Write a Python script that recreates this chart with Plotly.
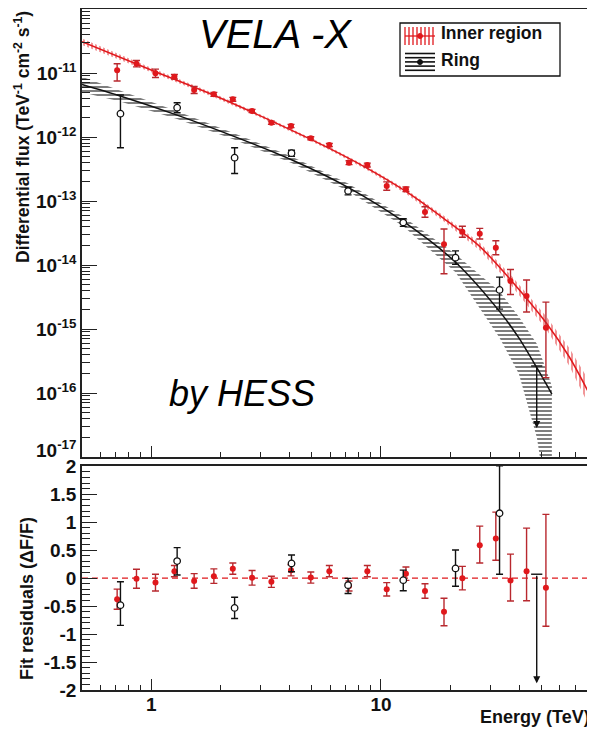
import numpy as np
import plotly.graph_objects as go

# ---------------- data ----------------
# Inner region spectral points (E in TeV, log10 flux)
inner_E = [0.711, 0.863, 1.044, 1.262, 1.538, 1.874, 2.266, 2.748, 3.335, 4.06, 4.95, 5.96,
           7.26, 8.72, 10.59, 12.84, 15.54, 18.8, 22.6, 26.9, 31.6, 36.6, 43.0, 52.2]
inner_logF = [-10.958, -10.855, -11.005, -11.058, -11.266, -11.333, -11.411, -11.594, -11.777,
              -11.828, -12.02, -12.125, -12.402, -12.438, -12.766, -12.817, -13.172, -13.677,
              -13.48, -13.511, -13.73, -14.25, -14.484, -14.98]
inner_dex_up = [0.103, 0.05, 0.065, 0.035, 0.055, 0.03, 0.03, 0.025, 0.025, 0.025, 0.025, 0.025,
                0.03, 0.03, 0.065, 0.035, 0.083, 0.24, 0.086, 0.083, 0.11, 0.18, 0.25, 0.40]
inner_dex_dn = [0.167, 0.05, 0.065, 0.035, 0.055, 0.03, 0.03, 0.025, 0.025, 0.025, 0.025, 0.025,
                0.03, 0.03, 0.065, 0.035, 0.083, 0.46, 0.086, 0.083, 0.11, 0.21, 0.25, 0.78]
inner_res = [-0.376, -0.01, -0.08, 0.125, -0.05, 0.036, 0.17, 0.006, -0.066, 0.14, 0.01, 0.125,
             -0.14, 0.125, -0.2, 0.08, -0.23, -0.6, 0.0, 0.59, 0.71, -0.04, 0.125, -0.17]
inner_res_up = [0.18, 0.17, 0.15, 0.1, 0.13, 0.13, 0.1, 0.13, 0.1, 0.1, 0.1, 0.1,
                0.09, 0.1, 0.12, 0.12, 0.13, 0.24, 0.21, 0.34, 0.47, 0.47, 0.77, 1.31]
inner_res_dn = [0.18, 0.17, 0.15, 0.1, 0.13, 0.13, 0.1, 0.13, 0.1, 0.1, 0.1, 0.1,
                0.09, 0.1, 0.12, 0.12, 0.13, 0.25, 0.21, 0.32, 0.39, 0.37, 0.53, 0.69]

# Ring spectral points
ring_E = [0.735, 1.297, 2.307, 4.08, 7.19, 12.5, 21.1, 32.8]
ring_logF = [-11.636, -11.542, -12.323, -12.253, -12.844, -13.336, -13.886, -14.39]
ring_dex_up = [0.292, 0.078, 0.156, 0.047, 0.06, 0.06, 0.106, 0.2]
ring_dex_dn = [0.531, 0.078, 0.247, 0.047, 0.06, 0.06, 0.104, 0.3]
ring_res = [-0.484, 0.305, -0.532, 0.263, -0.125, -0.036, 0.174, 1.16]
ring_res_up = [0.42, 0.24, 0.19, 0.15, 0.12, 0.18, 0.33, 0.85]
ring_res_dn = [0.36, 0.25, 0.19, 0.15, 0.15, 0.19, 0.32, 1.09]
ring_ul_E = [47.6]
ring_ul_logF = [-15.578]
ring_ul_tip_logF = [-16.547]
ring_ul_res = [0.07]
ring_ul_res_tip = [-1.88]

# Fitted spectra with their error bands
inner_fit_E = [0.5, 1.0, 1.873, 3.33, 5.96, 8.72, 12.84, 18.84, 26.94, 36.7, 52.2, 66.0, 82.0]
inner_fit_logF = [-10.511, -10.953, -11.348, -11.747, -12.177, -12.489, -12.85, -13.278,
                  -13.7125, -14.233, -14.898, -15.4375, -16.0625]
inner_band_dex = [0.05, 0.035, 0.03, 0.025, 0.025, 0.03, 0.035, 0.045, 0.06, 0.075, 0.1, 0.14, 0.2]

ring_fit_E = [0.5, 0.733, 1.297, 2.307, 4.08, 7.19, 12.5, 21.1, 32.8, 39.8, 47.7, 55.4]
ring_fit_logF = [-11.18, -11.359, -11.658, -11.994, -12.355, -12.786, -13.32, -13.956,
                 -14.725, -15.14, -15.609, -16.016]
ring_band_up_dex = [0.12, 0.085, 0.06, 0.05, 0.05, 0.058, 0.075, 0.125, 0.31, 0.33, 0.375, 0.125]
ring_band_dn_dex = [0.12, 0.085, 0.06, 0.05, 0.05, 0.058, 0.075, 0.156, 0.41, 0.56, 1.09, 2.19]

# Axis tick labels
flux_tick_exp = [-17, -16, -15, -14, -13, -12, -11]
res_ticks = [-2, -1.5, -1, -0.5, 0, 0.5, 1, 1.5, 2]
res_tick_text = ["-2", "-1.5", "-1", "-0.5", "0", "0.5", "1", "1.5", "2"]
energy_ticks = [1, 10]
energy_tick_text = ["1", "10"]

# ---------------- styling ----------------
RED = "#e0181c"
RED_ERR = "#b8282e"
BLK = "#111111"
FONT = "Liberation Sans"

# the page body has an 8px margin: the figure starts at (8, 8) on screen
W, H = 587, 721
ML, MR, MT, MB = 74, 4, 1, 39
PW, PH = W - ML - MR, H - MT - MB   # 509 x 681; plot area spans screen x 82..591, y 9..690


def px(x):       # screen x -> paper
    return (x - 82) / PW


def py(y):       # screen y -> paper
    return (690 - y) / PH


fig = go.Figure()


def tenp(a):
    return np.power(10.0, np.asarray(a, dtype=float))


# --- bands ---
iE = np.asarray(inner_fit_E)
iF = np.asarray(inner_fit_logF)
iB = np.asarray(inner_band_dex)
fig.add_trace(go.Scatter(
    x=np.concatenate([iE, iE[::-1]]),
    y=np.concatenate([tenp(iF + iB), tenp((iF - iB)[::-1])]),
    mode="lines", line=dict(width=0), fill="toself", fillcolor="rgba(0,0,0,0)",
    fillpattern=dict(shape="|", fgcolor=RED, bgcolor="rgba(0,0,0,0)", size=4, solidity=0.45),
    xaxis="x", yaxis="y", showlegend=False, hoverinfo="skip"))

rE = np.asarray(ring_fit_E)
rF = np.asarray(ring_fit_logF)
rU = np.asarray(ring_band_up_dex)
rD = np.asarray(ring_band_dn_dex)
fig.add_trace(go.Scatter(
    x=np.concatenate([rE, rE[::-1]]),
    y=np.concatenate([tenp(rF + rU), tenp((rF - rD)[::-1])]),
    mode="lines", line=dict(width=0), fill="toself", fillcolor="rgba(0,0,0,0)",
    fillpattern=dict(shape="-", fgcolor="#000000", bgcolor="rgba(0,0,0,0)", size=4, solidity=0.5),
    xaxis="x", yaxis="y", showlegend=False, hoverinfo="skip"))

# --- fit lines ---
fig.add_trace(go.Scatter(x=inner_fit_E, y=tenp(inner_fit_logF), mode="lines",
                         line=dict(color=RED, width=1.5, shape="spline", smoothing=0.8),
                         xaxis="x", yaxis="y", showlegend=False))
fig.add_trace(go.Scatter(x=ring_fit_E, y=tenp(ring_fit_logF), mode="lines",
                         line=dict(color=BLK, width=1.5, shape="spline", smoothing=0.8),
                         xaxis="x", yaxis="y", showlegend=False))

# --- data points, top panel ---
iF0 = tenp(inner_logF)
fig.add_trace(go.Scatter(
    x=inner_E, y=iF0, mode="markers",
    marker=dict(color=RED, size=6, symbol="circle"),
    error_y=dict(type="data", symmetric=False,
                 array=tenp(np.asarray(inner_logF) + np.asarray(inner_dex_up)) - iF0,
                 arrayminus=iF0 - tenp(np.asarray(inner_logF) - np.asarray(inner_dex_dn)),
                 color=RED_ERR, thickness=1.4, width=3.5),
    xaxis="x", yaxis="y", showlegend=False))

rF0 = tenp(ring_logF)
fig.add_trace(go.Scatter(
    x=ring_E, y=rF0, mode="markers",
    marker=dict(color="white", size=6.5, symbol="circle", line=dict(color=BLK, width=1.3)),
    error_y=dict(type="data", symmetric=False,
                 array=tenp(np.asarray(ring_logF) + np.asarray(ring_dex_up)) - rF0,
                 arrayminus=rF0 - tenp(np.asarray(ring_logF) - np.asarray(ring_dex_dn)),
                 color=BLK, thickness=1.4, width=3.5),
    xaxis="x", yaxis="y", showlegend=False))
# upper-limit cap
fig.add_trace(go.Scatter(x=ring_ul_E, y=tenp(ring_ul_logF), mode="markers",
                         marker=dict(symbol="line-ew", size=8, line=dict(color=BLK, width=1.4)),
                         xaxis="x", yaxis="y", showlegend=False))

# --- residual panel ---
fig.add_trace(go.Scatter(
    x=inner_E, y=inner_res, mode="markers",
    marker=dict(color=RED, size=6, symbol="circle"),
    error_y=dict(type="data", symmetric=False, array=inner_res_up, arrayminus=inner_res_dn,
                 color=RED_ERR, thickness=1.4, width=3.5),
    xaxis="x2", yaxis="y2", showlegend=False))
fig.add_trace(go.Scatter(
    x=ring_E, y=ring_res, mode="markers",
    marker=dict(color="white", size=6.5, symbol="circle", line=dict(color=BLK, width=1.3)),
    error_y=dict(type="data", symmetric=False, array=ring_res_up, arrayminus=ring_res_dn,
                 color=BLK, thickness=1.4, width=3.5),
    xaxis="x2", yaxis="y2", showlegend=False))
fig.add_trace(go.Scatter(x=ring_ul_E, y=ring_ul_res, mode="markers",
                         marker=dict(symbol="line-ew", size=8, line=dict(color=BLK, width=1.4)),
                         xaxis="x2", yaxis="y2", showlegend=False))

annotations = []
# upper-limit arrows (annotation coordinates are log10 on log axes)
for e, top, tip in zip(ring_ul_E, ring_ul_logF, ring_ul_tip_logF):
    annotations.append(dict(x=np.log10(e), y=tip, ax=np.log10(e), ay=top, xref="x", yref="y",
                            axref="x", ayref="y", showarrow=True, arrowhead=2, arrowsize=1,
                            arrowwidth=1.4, arrowcolor=BLK, text=""))
for e, top, tip in zip(ring_ul_E, ring_ul_res, ring_ul_res_tip):
    annotations.append(dict(x=np.log10(e), y=tip, ax=np.log10(e), ay=top, xref="x2", yref="y2",
                            axref="x2", ayref="y2", showarrow=True, arrowhead=2, arrowsize=1,
                            arrowwidth=1.4, arrowcolor=BLK, text=""))

# ---------------- axes ----------------
tickfont = dict(family=FONT, size=19, color="#111", weight="bold")
xr = [np.log10(0.5), np.log10(82)]
x_minor = [v * 10 ** d for d in (-1, 0, 1) for v in range(2, 10) if 0.5 < v * 10 ** d < 82]
y_minor = [v * 10.0 ** d for d in range(-17, -10) for v in range(2, 10)]
r_minor = [round(-2 + 0.1 * i, 2) for i in range(41)]

# the lowest flux label sits slightly above its tick (as in the original), so it is
# written as an annotation; the others are regular tick labels
flux_tick_text = ["" if e == flux_tick_exp[0] else "10<sup>%d</sup>" % e for e in flux_tick_exp]
annotations.append(dict(x=px(78), y=py(449), xref="paper", yref="paper",
                        text="10<sup>%d</sup>" % flux_tick_exp[0], showarrow=False,
                        xanchor="right", yanchor="middle", font=tickfont))

axis_common = dict(showline=True, mirror=True, linecolor="#222", linewidth=1.6,
                   showgrid=False, zeroline=False, ticks="inside", tickcolor="#222",
                   tickwidth=1.3, tickfont=tickfont)

fig.update_layout(
    width=W, height=H, margin=dict(l=ML, r=MR, t=MT, b=MB, autoexpand=False),
    paper_bgcolor="white", plot_bgcolor="white", showlegend=False,
    xaxis=dict(axis_common, type="log", range=xr, domain=[0, 1], anchor="y",
               tickvals=energy_ticks, ticklen=11, showticklabels=False,
               minor=dict(ticks="inside", ticklen=5, tickvals=x_minor, tickcolor="#222")),
    yaxis=dict(axis_common, type="log", range=[-17, -10], domain=[py(457), 1], anchor="x",
               tickvals=[10.0 ** e for e in flux_tick_exp], ticktext=flux_tick_text,
               ticklen=15, ticklabelstandoff=0,
               minor=dict(ticks="inside", ticklen=8, tickvals=y_minor, tickcolor="#222")),
    xaxis2=dict(axis_common, type="log", range=xr, domain=[0, 1], anchor="y2", matches="x",
                tickvals=energy_ticks, ticktext=energy_tick_text, ticklen=11,
                ticklabelstandoff=-4,
                minor=dict(ticks="inside", ticklen=5, tickvals=x_minor, tickcolor="#222")),
    yaxis2=dict(axis_common, range=[-2, 2.005], domain=[0, py(466)], anchor="x2",
                tickvals=res_ticks, ticktext=res_tick_text, ticklen=15, ticklabelstandoff=0,
                minor=dict(ticks="inside", ticklen=8, tickvals=r_minor, tickcolor="#222")),
)

# residual zero line
shapes = [dict(type="line", xref="x2 domain", x0=0, x1=1, yref="y2", y0=0, y1=0,
               line=dict(color=RED, width=1.4, dash="6px,4px"), layer="below")]

# ---------------- legend (drawn by hand) ----------------
shapes.append(dict(type="rect", xref="paper", yref="paper", x0=px(400), x1=px(560),
                   y0=py(76), y1=py(23), line=dict(color="#111", width=1.3),
                   fillcolor="white", layer="above"))
for k in range(8):
    xx = 405 + 4 * k
    shapes.append(dict(type="line", xref="paper", yref="paper", x0=px(xx), x1=px(xx),
                       y0=py(27), y1=py(45), line=dict(color=RED, width=1.3)))
shapes.append(dict(type="line", xref="paper", yref="paper", x0=px(405), x1=px(435),
                   y0=py(36), y1=py(36), line=dict(color=RED, width=1.3)))
shapes.append(dict(type="circle", xref="paper", yref="paper", x0=px(417.5), x1=px(422.5),
                   y0=py(38.5), y1=py(33.5), line=dict(color=RED, width=1), fillcolor=RED))
for k in range(5):
    yy = 53.5 + 4.2 * k
    shapes.append(dict(type="line", xref="paper", yref="paper", x0=px(405), x1=px(435),
                       y0=py(yy), y1=py(yy), line=dict(color=BLK, width=1.6)))
shapes.append(dict(type="circle", xref="paper", yref="paper", x0=px(417.5), x1=px(422.5),
                   y0=py(64.5), y1=py(59.5), line=dict(color=BLK, width=1), fillcolor=BLK))

legfont = dict(family=FONT, size=17.5, color="#111", weight="bold")
annotations.append(dict(x=px(439), y=py(33), xref="paper", yref="paper", text="Inner region",
                        showarrow=False, xanchor="left", yanchor="middle", font=legfont))
annotations.append(dict(x=px(439), y=py(59.5), xref="paper", yref="paper", text="Ring",
                        showarrow=False, xanchor="left", yanchor="middle", font=legfont))

# ---------------- titles / labels ----------------
annotations.append(dict(x=px(22), y=py(137), xref="paper", yref="paper", textangle=-90,
                        text="Differential flux (TeV<sup>-1</sup> cm<sup>-2</sup> s<sup>-1</sup>)",
                        showarrow=False, xanchor="center", yanchor="middle",
                        font=dict(family=FONT, size=17.5, color="#111", weight="bold")))
annotations.append(dict(x=px(26.5), y=py(598.5), xref="paper", yref="paper", textangle=-90,
                        text="Fit residuals (\u0394F/F)", showarrow=False,
                        xanchor="center", yanchor="middle",
                        font=dict(family=FONT, size=18, color="#111", weight="bold")))
annotations.append(dict(x=px(592), y=py(717), xref="paper", yref="paper", text="Energy (TeV)",
                        showarrow=False, xanchor="right", yanchor="middle",
                        font=dict(family=FONT, size=18, color="#111", weight="bold")))
annotations.append(dict(x=px(275), y=py(34), xref="paper", yref="paper", text="VELA -X",
                        showarrow=False, xanchor="center", yanchor="middle",
                        font=dict(family=FONT, size=40, color="black", style="italic")))
annotations.append(dict(x=px(242), y=py(394), xref="paper", yref="paper", text="by HESS",
                        showarrow=False, xanchor="center", yanchor="middle",
                        font=dict(family=FONT, size=36, color="black", style="italic")))

fig.update_layout(shapes=shapes, annotations=annotations)

fig.write_html("out.html")
